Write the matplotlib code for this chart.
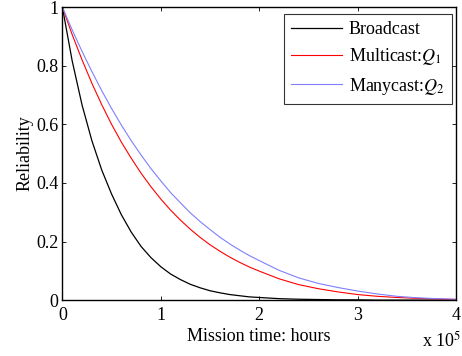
import numpy as np
import matplotlib.pyplot as plt

plt.rcParams['font.family'] = ['Liberation Serif', 'DejaVu Serif']
plt.rcParams['mathtext.fontset'] = 'stix'

# mission time in units of 1e5 hours
t = [0.0, 0.1, 0.2, 0.3, 0.4, 0.5, 0.6, 0.7, 0.8, 0.9, 1.0, 1.1, 1.2, 1.3, 1.4,
     1.5, 1.6, 1.7, 1.8, 1.9, 2.0, 2.2, 2.4, 2.6, 2.8, 3.0, 3.2, 3.4, 3.6, 3.8, 4.0]

broadcast = [1.0, 0.816, 0.666, 0.544, 0.444, 0.362, 0.291, 0.232, 0.183, 0.145,
             0.114, 0.089, 0.070, 0.054, 0.042, 0.032, 0.025, 0.019, 0.015, 0.011,
             0.009, 0.005, 0.003, 0.002, 0.001, 0.001, 0.0, 0.0, 0.0, 0.0, 0.0]
multicast = [1.0, 0.906, 0.820, 0.740, 0.667, 0.600, 0.539, 0.484, 0.433, 0.387,
             0.345, 0.307, 0.273, 0.242, 0.214, 0.189, 0.167, 0.147, 0.129, 0.113,
             0.099, 0.073, 0.053, 0.039, 0.028, 0.019, 0.013, 0.009, 0.006, 0.004, 0.002]
manycast = [1.0, 0.922, 0.849, 0.780, 0.715, 0.654, 0.597, 0.544, 0.495, 0.449,
            0.407, 0.367, 0.332, 0.298, 0.268, 0.241, 0.215, 0.192, 0.171, 0.152,
            0.135, 0.102, 0.076, 0.057, 0.043, 0.031, 0.021, 0.013, 0.008, 0.005, 0.003]

fig = plt.figure(figsize=(4.62, 3.56), dpi=100)
ax = fig.add_axes([0.135, 0.157, 0.852, 0.823])

ax.plot(t, broadcast, color='black', lw=0.9, label='Broadcast')
ax.plot(t, multicast, color='#ff0000', lw=0.8, label='Multicast:$Q_1$')
ax.plot(t, manycast, color='#7f7fff', lw=0.8, label='Manycast:$Q_2$')

ax.set_xlim(0, 4)
ax.set_ylim(0, 1)
ax.set_xticks([0, 1, 2, 3, 4])
ax.set_yticks([0, 0.2, 0.4, 0.6, 0.8, 1])
ax.set_yticklabels(['0', '0.2', '0.4', '0.6', '0.8', '1'])
ax.tick_params(direction='in', top=True, right=True, labelsize=13, length=3, width=0.6)
ax.tick_params(axis='x', pad=5)
ax.tick_params(axis='y', pad=3)
for s in ax.spines.values():
    s.set_linewidth(1.0)

ax.set_xlabel('Mission time: hours', fontsize=13, labelpad=3)
ax.set_ylabel('Reliability', fontsize=13, labelpad=2)
fig.text(0.913, 0.014, 'x 10$^5$', fontsize=13, ha='left', va='bottom')

leg = ax.legend(loc='upper right', bbox_to_anchor=(0.99, 0.976), borderaxespad=0,
                fontsize=13, handlelength=2.8, handletextpad=0.4, frameon=True,
                fancybox=False, edgecolor='black', labelspacing=0.45, borderpad=0.4)
leg.get_frame().set_linewidth(0.8)

fig.savefig('out.png', dpi=100)
